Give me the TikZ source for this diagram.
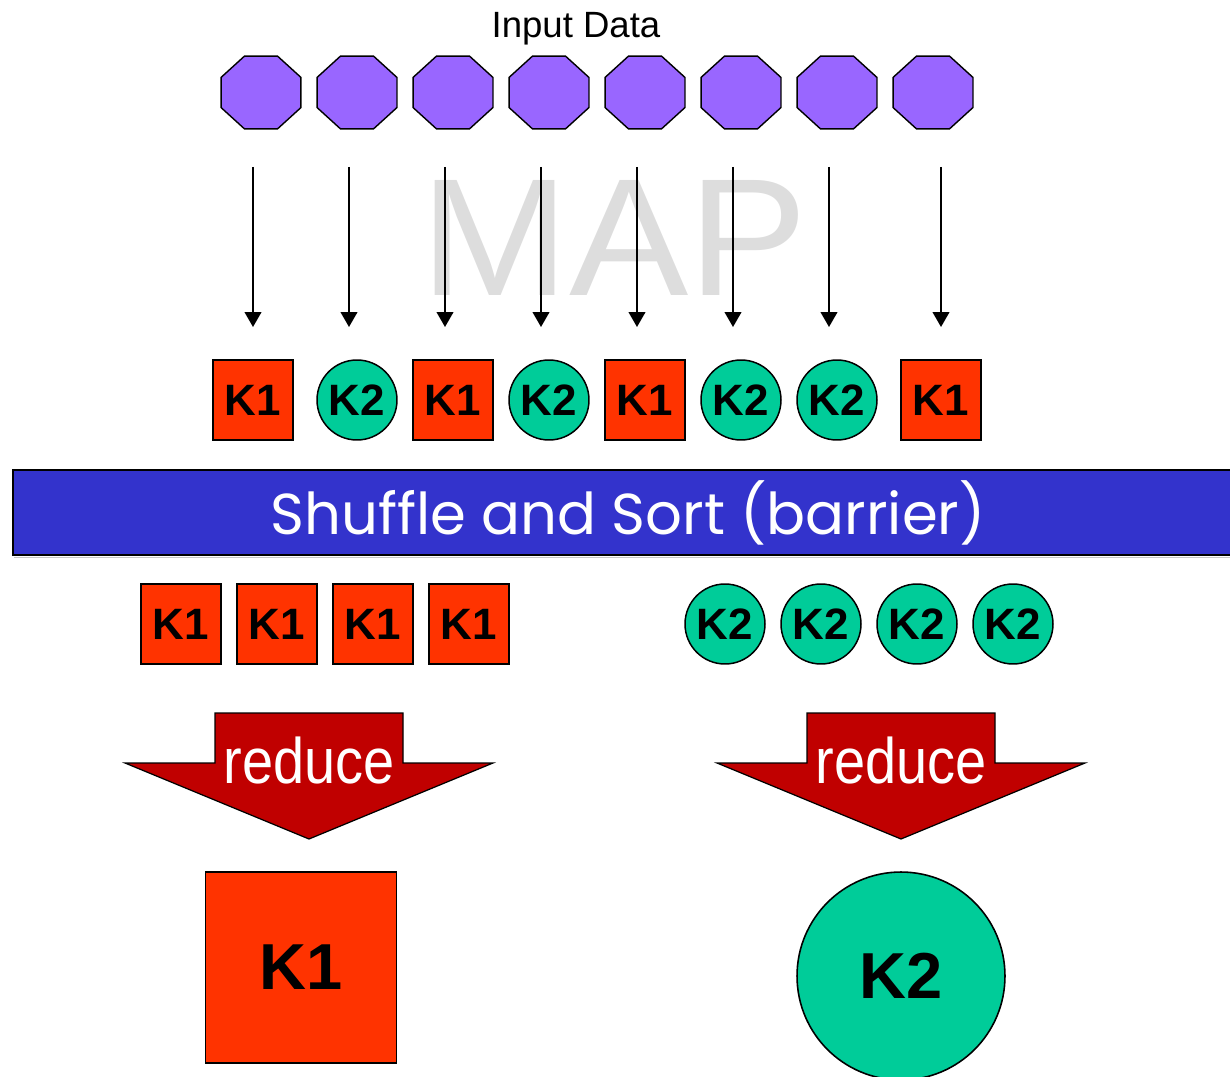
\documentclass[tikz,border=0pt]{standalone}
\usepackage{fontspec}
\setmainfont{Liberation Sans}
\newfontfamily\geofont{Poppins}
\usetikzlibrary{shapes.geometric,arrows.meta}

\definecolor{octfill}{HTML}{9966FF}
\definecolor{keyred}{HTML}{FF3300}
\definecolor{keygreen}{HTML}{00CC99}
\definecolor{barblue}{HTML}{3333CC}
\definecolor{reducered}{HTML}{C00000}
\definecolor{mapgray}{HTML}{DDDDDD}

\tikzset{
  keytext/.style={font=\fontsize{25}{25}\selectfont\bfseries},
  keysq/.style={rectangle, draw=black, line width=0.85pt, fill=keyred,
    minimum size=1.6cm, inner sep=0pt, keytext},
  keyci/.style={circle, draw=black, line width=0.85pt, fill=keygreen,
    minimum size=1.6cm, inner sep=0pt, keytext},
  bigtext/.style={font=\fontsize{37}{37}\selectfont\bfseries},
  octa/.style={regular polygon, regular polygon sides=8, draw=black,
    line width=0.8pt, fill=octfill, minimum size=1.73cm, inner sep=0pt,
    yscale=0.91, transform shape},
  maparrow/.style={line width=1pt, -{Triangle[width=9.5pt,length=8.5pt]}},
  reduceshape/.style={draw=black, line width=0.7pt, fill=reducered},
  reducetext/.style={text=white, inner sep=0pt, anchor=base,
    font=\fontsize{36.6}{36.6}\selectfont},
}

\begin{document}
\begin{tikzpicture}[x=0.02cm, y=-0.02cm]
\useasboundingbox (0,0) rectangle (1230,1077);

% watermark behind the map arrows
\node[inner sep=0pt, anchor=base] (maplabel) at (614,296)
  {\resizebox{7.75cm}{2.3cm}{\color{mapgray}MAP}};

% title
\node[inner sep=0pt, anchor=base, font=\fontsize{20.8}{20.8}\selectfont] (title) at (576,38) {Input Data};

% input splits
\foreach \i/\x in {1/261,2/357,3/453,4/549,5/645,6/741,7/837,8/933}
  \node[octa] (in\i) at (\x,92.5) {};

% map arrows
\foreach \i/\x in {1/253,2/349,3/445,4/541,5/637,6/733,7/829,8/941} {
  \coordinate (ms\i) at (\x,167);
  \coordinate (me\i) at (\x,327);
  \draw[maparrow] (ms\i) -- (me\i);
}

% intermediate keys
\node[keysq] (m1) at (253,400) {K1};
\node[keyci] (m2) at (357,400) {K2};
\node[keysq] (m3) at (453,400) {K1};
\node[keyci] (m4) at (549,400) {K2};
\node[keysq] (m5) at (645,400) {K1};
\node[keyci] (m6) at (741,400) {K2};
\node[keyci] (m7) at (837,400) {K2};
\node[keysq] (m8) at (941,400) {K1};

% shuffle barrier
\draw[gray!45, line width=0.6pt] (14,557.5) -- (1232,557.5);
\draw[draw=black, line width=0.9pt, fill=barblue] (13,470) rectangle (1234,555);
\node[inner sep=0pt, text=white] (barrier) at (628,513)
  {\resizebox{14.3cm}{!}{\geofont Shuffle and Sort (barrier)}};

% grouped keys
\foreach \i/\x in {1/181,2/277,3/373,4/469}
  \node[keysq] (ga\i) at (\x,624) {K1};
\foreach \i/\x in {1/725,2/821,3/917,4/1013}
  \node[keyci] (gb\i) at (\x,624) {K2};

% reduce arrows
\draw[reduceshape] (215,713) -- (403,713) -- (403,763) -- (493,763) -- (309,839)
  -- (125,763) -- (215,763) -- cycle;
\node[reducetext] (redA) at (309,783) {\scalebox{0.87}[1]{reduce}};
\draw[reduceshape] (807,713) -- (995,713) -- (995,763) -- (1085,763) -- (901,839)
  -- (717,763) -- (807,763) -- cycle;
\node[reducetext] (redB) at (901,783) {\scalebox{0.87}[1]{reduce}};

% final outputs
\node[rectangle, draw=black, line width=0.9pt, fill=keyred, minimum size=3.82cm,
  inner sep=0pt, bigtext] (outA) at (301,967.5) {K1};
\node[circle, draw=black, line width=0.9pt, fill=keygreen, minimum size=4.16cm,
  inner sep=0pt, bigtext] (outB) at (901,976) {K2};
\end{tikzpicture}
\end{document}
